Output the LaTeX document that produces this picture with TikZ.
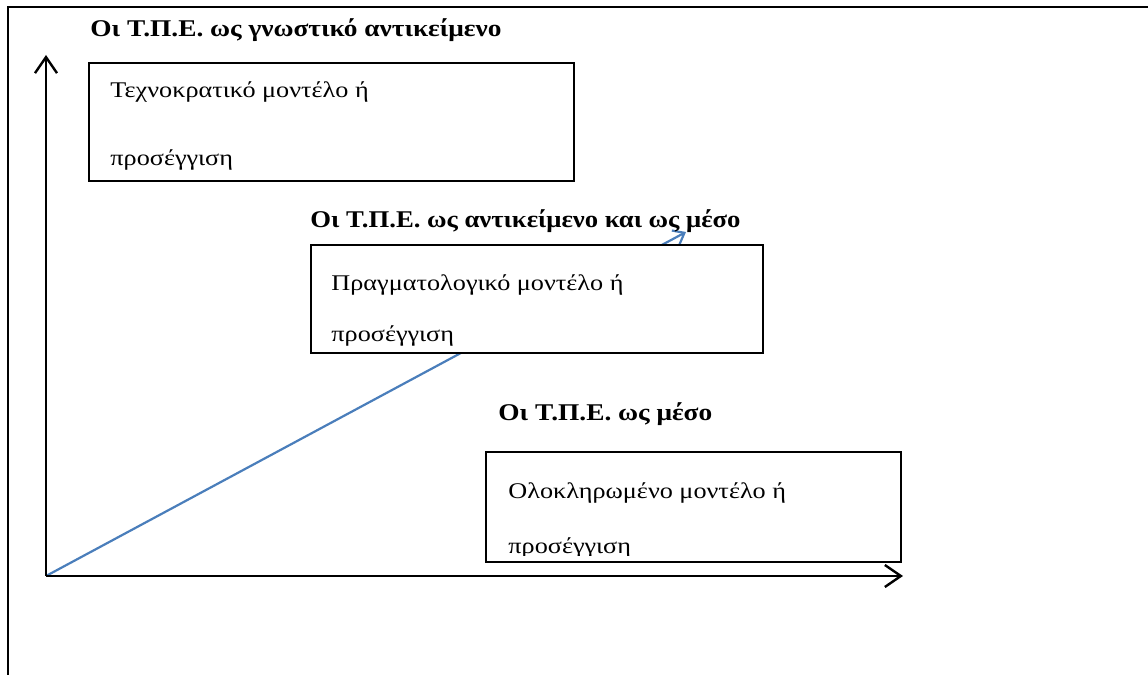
\documentclass[tikz,border=0pt]{standalone}
\usepackage{fontspec}
\setmainfont{Liberation Serif}
\usetikzlibrary{arrows.meta}

\begin{document}
\begin{tikzpicture}[x=0.5pt, y=0.5pt]
	\tikzset{cadre/.style={line width=1.2pt},
		axe/.style={line width=1.2pt, -{Straight Barb[length=8pt, width=11pt]}},
		fleche/.style={line width=1.1pt, draw={rgb,255:red,74;green,126;blue,187}, -{Straight Barb[length=5pt, width=8pt]}},
		boite/.style={draw=black, fill=white, line width=0.6pt, inner sep=0pt},
		titre/.style={font=\fontsize{12}{14}\selectfont\bfseries, anchor=base west, inner sep=0pt, xscale=1.14},
		texte/.style={font=\fontsize{11.2}{14}\selectfont, anchor=base west, inner sep=0pt, xscale=1.17}};

	\useasboundingbox (0,0) rectangle (1148,675);

	% cadre (haut et gauche)
	\coordinate (c1) at (   8,   0);
	\coordinate (c2) at (   8, 668);
	\coordinate (c3) at (1148, 668);
	\draw[cadre] (c1) -- (c2) -- (c3);

	% axes
	\coordinate (O) at (  46,  99);
	\coordinate (Y) at (  46, 620);
	\coordinate (X) at ( 903,  99);
	\coordinate (D) at ( 686, 443);

	\draw[fleche] (O) -- (D);
	\draw[axe] (O) -- (Y);
	\draw[axe] (O) -- (X);

	% boites
	\node[boite, minimum width=242.5pt, minimum height=59pt] (m1) at (331.5, 553) {};
	\node[boite, minimum width=226pt,   minimum height=54pt] (m2) at (537,   376) {};
	\node[boite, minimum width=207.5pt, minimum height=55pt] (m3) at (693.5, 168) {};

	\node[titre] (n1) at ( 90, 638) {Οι Τ.Π.Ε. ως γνωστικό αντικείμενο};
	\node[titre, xscale=0.975] (n2) at (310, 447) {Οι Τ.Π.Ε. ως αντικείμενο και ως μέσο};
	\node[titre] (n3) at (498, 254) {Οι Τ.Π.Ε. ως μέσο};

	\node[texte] (t1a) at (110, 577) {Τεχνοκρατικό μοντέλο ή};
	\node[texte] (t1b) at (110, 509) {προσέγγιση};
	\node[texte] (t2a) at (331, 384) {Πραγματολογικό μοντέλο ή};
	\node[texte] (t2b) at (331, 333) {προσέγγιση};
	\node[texte] (t3a) at (508, 176) {Ολοκληρωμένο μοντέλο ή};
	% la derniere ligne est coupee par le bas de la boite
	\coordinate (k3) at (486, 119);
	\begin{scope}
		\clip (k3) rectangle (m3.north east);
		\node[texte] (t3b) at (508, 121) {προσέγγιση};
	\end{scope}

\end{tikzpicture}
\end{document}
